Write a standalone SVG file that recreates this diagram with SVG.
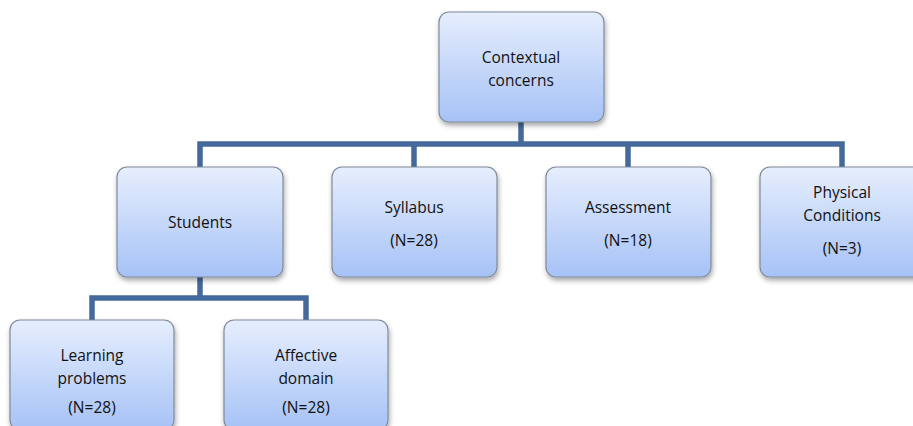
<svg xmlns="http://www.w3.org/2000/svg" width="913" height="426" viewBox="0 0 913 426">
  <defs>
    <linearGradient id="boxFill" x1="0" y1="0" x2="0" y2="1">
      <stop offset="0" stop-color="#e6eefd"/>
      <stop offset="1" stop-color="#a6c2f6"/>
    </linearGradient>
    <filter id="shadow" x="-10%" y="-10%" width="125%" height="130%">
      <feDropShadow dx="1" dy="3" stdDeviation="2.5" flood-color="#000" flood-opacity="0.35"/>
    </filter>
  </defs>
  <style>
    .box { fill: url(#boxFill); stroke: #7f8a99; stroke-width: 1.2; filter: url(#shadow); }
    .lbl { font-family: "Open Sans", "Noto Sans", "Liberation Sans", sans-serif; font-size: 15.5px; fill: #111; text-anchor: middle; }
    .link { fill: none; stroke: #44699a; stroke-width: 5.5; stroke-linejoin: miter; }
  </style>
  <rect width="913" height="426" fill="#ffffff"/>

  <!-- connectors -->
  <g id="connectors">
    <path class="link" d="M521 122 V144"/>
    <path class="link" d="M200 167 V144 H842 V167"/>
    <path class="link" d="M414 144 V167"/>
    <path class="link" d="M628 144 V167"/>
    <path class="link" d="M200 277 V298"/>
    <path class="link" d="M92 320 V298 H306 V320"/>
  </g>

  <g id="node-contextual">
    <rect class="box" x="439" y="12" width="165" height="110" rx="10"/>
    <text class="lbl" x="521" y="63">Contextual</text>
    <text class="lbl" x="521" y="86">concerns</text>
  </g>

  <g id="node-students">
    <rect class="box" x="117" y="167" width="166" height="110" rx="10"/>
    <text class="lbl" x="200" y="228">Students</text>
  </g>

  <g id="node-syllabus">
    <rect class="box" x="332" y="167" width="165" height="110" rx="10"/>
    <text class="lbl" x="414" y="213">Syllabus</text>
    <text class="lbl" x="414" y="246">(N=28)</text>
  </g>

  <g id="node-assessment">
    <rect class="box" x="546" y="167" width="165" height="110" rx="10"/>
    <text class="lbl" x="628" y="213">Assessment</text>
    <text class="lbl" x="628" y="246">(N=18)</text>
  </g>

  <g id="node-physical">
    <rect class="box" x="760" y="167" width="165" height="110" rx="10"/>
    <text class="lbl" x="842" y="198">Physical</text>
    <text class="lbl" x="842" y="221">Conditions</text>
    <text class="lbl" x="842" y="254">(N=3)</text>
  </g>

  <g id="node-learning">
    <rect class="box" x="10" y="320" width="164" height="110" rx="10"/>
    <text class="lbl" x="92" y="361">Learning</text>
    <text class="lbl" x="92" y="384">problems</text>
    <text class="lbl" x="92" y="413">(N=28)</text>
  </g>

  <g id="node-affective">
    <rect class="box" x="224" y="320" width="164" height="110" rx="10"/>
    <text class="lbl" x="306" y="361">Affective</text>
    <text class="lbl" x="306" y="384">domain</text>
    <text class="lbl" x="306" y="413">(N=28)</text>
  </g>
</svg>
